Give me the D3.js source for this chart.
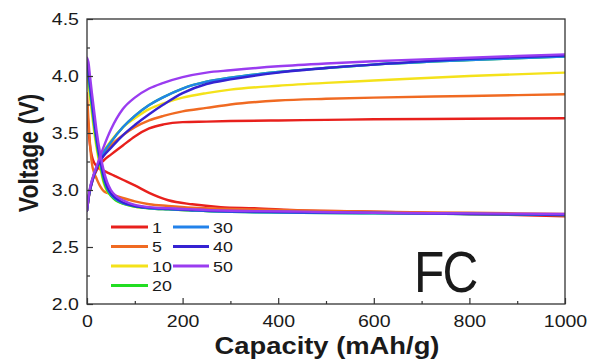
<!DOCTYPE html>
<html>
<head>
<meta charset="utf-8">
<script src="https://cdn.jsdelivr.net/npm/d3@7"></script>
<style>
  html, body { margin: 0; padding: 0; background: #fff; }
  svg { display: block; }
  text { font-family: "Liberation Sans", Arial, sans-serif; fill: #1a1a1a; }
</style>
</head>
<body>
<svg id="chart" width="590" height="361"></svg>
<script>
// Cycle rates (legend labels) and line colours
const rates = ["1", "5", "10", "20", "30", "40", "50"];
const colors = ["#e8201c", "#f06a22", "#f4e21a", "#22dd22", "#2282ea", "#3522d2", "#9a3cf0"];

// Charge branch: capacity (mAh/g) and voltage (V) for each rate
const capCharge = [0, 5, 12, 22, 35, 50, 75, 100, 130, 160, 200, 250, 300, 400, 500, 600, 800, 1000];
const charge1  = [2.82, 2.97, 3.09, 3.19, 3.26, 3.31, 3.39, 3.47, 3.54, 3.575, 3.595, 3.60, 3.605, 3.61, 3.615, 3.62, 3.625, 3.63];
const charge5  = [2.82, 2.98, 3.10, 3.21, 3.31, 3.39, 3.48, 3.55, 3.61, 3.65, 3.69, 3.72, 3.75, 3.785, 3.80, 3.81, 3.825, 3.84];
const charge10 = [2.82, 2.98, 3.10, 3.22, 3.34, 3.43, 3.55, 3.63, 3.71, 3.76, 3.81, 3.85, 3.88, 3.915, 3.94, 3.96, 4.00, 4.03];
const charge20 = [2.82, 2.98, 3.10, 3.22, 3.33, 3.42, 3.55, 3.65, 3.745, 3.815, 3.89, 3.95, 3.985, 4.035, 4.07, 4.10, 4.14, 4.17];
const charge30 = [2.82, 2.98, 3.10, 3.22, 3.33, 3.42, 3.55, 3.65, 3.745, 3.815, 3.89, 3.95, 3.985, 4.035, 4.07, 4.10, 4.14, 4.17];
const charge40 = [2.82, 2.97, 3.09, 3.21, 3.30, 3.37, 3.48, 3.57, 3.665, 3.75, 3.85, 3.93, 3.97, 4.03, 4.07, 4.10, 4.15, 4.18];
const charge50 = [2.82, 2.99, 3.11, 3.23, 3.38, 3.53, 3.71, 3.81, 3.89, 3.94, 3.99, 4.03, 4.05, 4.085, 4.11, 4.13, 4.16, 4.19];

// Discharge branch: capacity (mAh/g) and voltage (V) for each rate
const capDischarge = [0, 3, 6, 10, 15, 20, 28, 35, 42, 50, 60, 75, 100, 130, 170, 220, 280, 350, 450, 600, 800, 1000];
const discharge1  = [3.75, 3.55, 3.40, 3.30, 3.24, 3.21, 3.18, 3.17, 3.155, 3.14, 3.12, 3.09, 3.04, 2.975, 2.91, 2.875, 2.85, 2.84, 2.82, 2.81, 2.79, 2.77];
const discharge5  = [3.85, 3.62, 3.42, 3.24, 3.15, 3.10, 3.03, 2.99, 2.975, 2.965, 2.95, 2.93, 2.90, 2.875, 2.86, 2.845, 2.835, 2.83, 2.82, 2.81, 2.80, 2.79];
const discharge10 = [4.02, 3.93, 3.82, 3.68, 3.51, 3.37, 3.19, 3.06, 2.99, 2.95, 2.91, 2.88, 2.855, 2.84, 2.83, 2.82, 2.815, 2.81, 2.805, 2.80, 2.79, 2.785];
const discharge20 = [4.08, 3.99, 3.88, 3.74, 3.56, 3.41, 3.22, 3.08, 3.00, 2.95, 2.91, 2.88, 2.855, 2.84, 2.83, 2.82, 2.81, 2.805, 2.80, 2.795, 2.79, 2.78];
const discharge30 = [4.10, 4.02, 3.91, 3.77, 3.59, 3.44, 3.25, 3.11, 3.02, 2.96, 2.92, 2.885, 2.86, 2.84, 2.83, 2.82, 2.81, 2.805, 2.80, 2.795, 2.79, 2.78];
const discharge40 = [4.12, 4.05, 3.94, 3.80, 3.62, 3.46, 3.26, 3.12, 3.03, 2.97, 2.93, 2.89, 2.86, 2.845, 2.835, 2.825, 2.815, 2.81, 2.805, 2.80, 2.79, 2.785];
const discharge50 = [4.16, 4.12, 4.01, 3.86, 3.69, 3.52, 3.31, 3.17, 3.07, 3.00, 2.95, 2.91, 2.87, 2.85, 2.84, 2.83, 2.82, 2.815, 2.81, 2.80, 2.795, 2.79];

// Axis ticks
const xMajor = [0, 200, 400, 600, 800, 1000];
const xMinor = [100, 300, 500, 700, 900];
const yMajor = [2.0, 2.5, 3.0, 3.5, 4.0, 4.5];
const yMinor = [2.25, 2.75, 3.25, 3.75, 4.25];

const chargeSets = [charge1, charge5, charge10, charge20, charge30, charge40, charge50];
const dischargeSets = [discharge1, discharge5, discharge10, discharge20, discharge30, discharge40, discharge50];

const svg = d3.select("#chart");
const plot = { left: 87, right: 565, top: 19, bottom: 304 };

const x = d3.scaleLinear().domain([0, 1000]).range([plot.left, plot.right]);
const y = d3.scaleLinear().domain([2.0, 4.5]).range([plot.bottom, plot.top]);

svg.append("defs").append("clipPath").attr("id", "plotClip")
  .append("rect")
  .attr("x", plot.left).attr("y", plot.top)
  .attr("width", plot.right - plot.left).attr("height", plot.bottom - plot.top);

// Curves
const line = d3.line()
  .x(d => x(d[0]))
  .y(d => y(d[1]))
  .curve(d3.curveMonotoneX);

const curves = svg.append("g").attr("clip-path", "url(#plotClip)");
rates.forEach((r, i) => {
  const chg = capCharge.map((c, k) => [c, chargeSets[i][k]]);
  const dis = capDischarge.map((c, k) => [c, dischargeSets[i][k]]);
  [chg, dis].forEach(pts => {
    curves.append("path")
      .datum(pts)
      .attr("d", line)
      .attr("fill", "none")
      .attr("stroke", colors[i])
      .attr("stroke-width", 2.4)
      .attr("stroke-linejoin", "round")
      .attr("stroke-linecap", "round");
  });
});

// Frame
svg.append("rect")
  .attr("x", plot.left).attr("y", plot.top)
  .attr("width", plot.right - plot.left).attr("height", plot.bottom - plot.top)
  .attr("fill", "none").attr("stroke", "#333").attr("stroke-width", 1.3);

// Axes with inward ticks
const fmtY = d3.format(".1f");
svg.append("g")
  .attr("transform", `translate(0,${plot.bottom})`)
  .call(d3.axisBottom(x).tickValues(xMajor).tickSizeInner(-6).tickSizeOuter(0).tickPadding(11).tickFormat(d3.format("d")));
svg.append("g")
  .attr("transform", `translate(0,${plot.bottom})`)
  .call(d3.axisBottom(x).tickValues(xMinor).tickSizeInner(-3).tickSizeOuter(0).tickFormat(""));
svg.append("g")
  .attr("transform", `translate(${plot.left},0)`)
  .call(d3.axisLeft(y).tickValues(yMajor).tickSizeInner(-6).tickSizeOuter(0).tickPadding(7).tickFormat(fmtY));
svg.append("g")
  .attr("transform", `translate(${plot.left},0)`)
  .call(d3.axisLeft(y).tickValues(yMinor).tickSizeInner(-3).tickSizeOuter(0).tickFormat(""));

svg.selectAll(".domain").remove();
svg.selectAll(".tick line").attr("stroke", "#333").attr("stroke-width", 1.2);
svg.selectAll(".tick text")
  .style("font-family", '"Liberation Sans", Arial, sans-serif')
  .style("font-size", "17px")
  .attr("fill", "#1a1a1a")
  .attr("transform", "scale(1.15,1)");

// Axis titles
svg.append("text")
  .attr("transform", `translate(${(plot.left + plot.right) / 2 + 1},354) scale(1.19,1)`)
  .attr("text-anchor", "middle")
  .style("font-size", "23px").style("font-weight", "bold")
  .text("Capacity (mAh/g)");

svg.append("text")
  .attr("transform", "translate(38,153) scale(1.19,1) rotate(-90)")
  .attr("text-anchor", "middle")
  .style("font-size", "23px").style("font-weight", "bold")
  .text("Voltage (V)");

// Legend in two columns
const legendCols = [{ x1: 111, x2: 148, tx: 152 }, { x1: 173, x2: 209, tx: 213 }];
const legendRows = [227, 246.5, 266, 285.5];
rates.forEach((r, i) => {
  const col = legendCols[i < 4 ? 0 : 1];
  const yy = legendRows[i < 4 ? i : i - 4];
  svg.append("line")
    .attr("x1", col.x1).attr("x2", col.x2).attr("y1", yy).attr("y2", yy)
    .attr("stroke", colors[i]).attr("stroke-width", 3);
  svg.append("text")
    .attr("transform", `translate(${col.tx},${yy}) scale(1.15,1)`)
    .attr("dy", "0.36em")
    .style("font-size", "15.5px")
    .text(r);
});

// Sample label
svg.append("text")
  .attr("transform", "translate(414,292) scale(0.87,1)")
  .style("font-size", "57px")
  .style("letter-spacing", "-2px")
  .attr("fill", "#111")
  .text("FC");
</script>
</body>
</html>
